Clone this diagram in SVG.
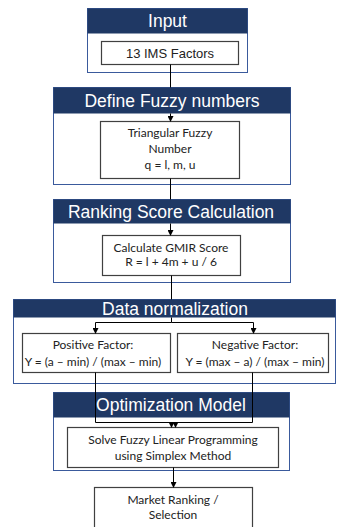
<svg xmlns="http://www.w3.org/2000/svg" width="337" height="527" viewBox="0 0 337 527">
<style>
.panel{fill:#fff;stroke:#3a5a9c;stroke-width:1}
.hdr{fill:#1f3864}
.ht{font-family:"Liberation Sans",Arial,sans-serif;font-size:17.5px;fill:#fff;text-anchor:middle}
.box{fill:#fff;stroke:#404040;stroke-width:1.2}
.bt{font-family:Lato,"Noto Sans",sans-serif;font-size:12px;fill:#222;text-anchor:middle}
.at{font-family:"Liberation Sans",Arial,sans-serif;font-size:13px;fill:#222;text-anchor:middle}
.ln{fill:none;stroke:#000;stroke-width:1}
</style>
<defs>
<marker id="ah" markerWidth="6" markerHeight="6" refX="5" refY="3" orient="auto" markerUnits="userSpaceOnUse">
<path d="M0,0 L6,3 L0,6 Z" fill="#000"/>
</marker>
</defs>
<rect width="337" height="527" fill="#fff"/>
<g id="input">
<rect class="panel" x="87.5" y="8.5" width="160" height="64"/>
<rect class="hdr" x="87.5" y="8.5" width="160" height="25"/>
<text class="ht" x="167.5" y="27">Input</text>
<rect class="box" x="101.5" y="41.5" width="137" height="23"/>
<text class="at" x="170" y="57.5">13 IMS Factors</text>
</g>
<g id="define">
<rect class="panel" x="53.5" y="87.5" width="237" height="97"/>
<rect class="hdr" x="53.5" y="87.5" width="237" height="26"/>
<text class="ht" x="172" y="106.5">Define Fuzzy numbers</text>
<rect class="box" x="100.5" y="121.5" width="139" height="57"/>
<text class="bt" x="170" y="137">Triangular Fuzzy</text>
<text class="bt" x="170" y="153">Number</text>
<text class="bt" x="170" y="169">q = l, m, u</text>
</g>
<g id="ranking">
<rect class="panel" x="53.5" y="199.5" width="237" height="83"/>
<rect class="hdr" x="53.5" y="199.5" width="237" height="24"/>
<text class="ht" x="171" y="217.5">Ranking Score Calculation</text>
<rect class="box" x="102.5" y="235.5" width="138" height="40"/>
<text class="bt" x="171" y="252">Calculate GMIR Score</text>
<text class="bt" x="171" y="266">R = l + 4m + u / 6</text>
</g>
<g id="normalization">
<rect class="panel" x="13.5" y="299.5" width="322" height="84"/>
<rect class="hdr" x="13.5" y="299.5" width="322" height="18"/>
<text class="ht" x="175" y="314.5">Data normalization</text>
<rect class="box" x="22.5" y="333.5" width="148" height="39"/>
<text class="bt" x="93" y="349">Positive Factor:</text>
<text class="bt" x="93" y="366">Y = (a – min) / (max – min)</text>
<rect class="box" x="177.5" y="333.5" width="151" height="39"/>
<text class="bt" x="255" y="349">Negative Factor:</text>
<text class="bt" x="255" y="366">Y = (max – a) / (max – min)</text>
</g>
<g id="optimization">
<rect class="panel" x="53.5" y="392.5" width="236" height="78"/>
<rect class="hdr" x="53.5" y="392.5" width="236" height="25"/>
<text class="ht" x="171" y="410.5">Optimization  Model</text>
<rect class="box" x="67.5" y="427.5" width="211" height="40"/>
<text class="bt" x="173" y="444">Solve Fuzzy Linear Programming</text>
<text class="bt" x="173" y="460">using Simplex Method</text>
</g>
<g id="result">
<rect class="box" x="94.5" y="487.5" width="158" height="50"/>
<text class="bt" x="173" y="504">Market Ranking /</text>
<text class="bt" x="173" y="519">Selection</text>
</g>
<g id="connectors">
<path class="ln" d="M170.5 64.5 V87.5 M170.5 113.5 V121" marker-end="url(#ah)"/>
<path class="ln" d="M170.5 178.5 V199.5 M170.5 223.5 V235" marker-end="url(#ah)"/>
<path class="ln" d="M171.5 275.5 V299.5 M171.5 317.5 V322.5"/>
<path class="ln" d="M171.5 322.5 H95.5 V333" marker-end="url(#ah)"/>
<path class="ln" d="M171.5 322.5 H253.5 V333" marker-end="url(#ah)"/>
<path class="ln" d="M95.5 372.5 V422.5 H171.5 V427" marker-end="url(#ah)"/>
<path class="ln" d="M252.5 372.5 V422.5 H175.5 V427" marker-end="url(#ah)"/>
<path class="ln" d="M173.5 467.5 V487" marker-end="url(#ah)"/>
</g>
</svg>
